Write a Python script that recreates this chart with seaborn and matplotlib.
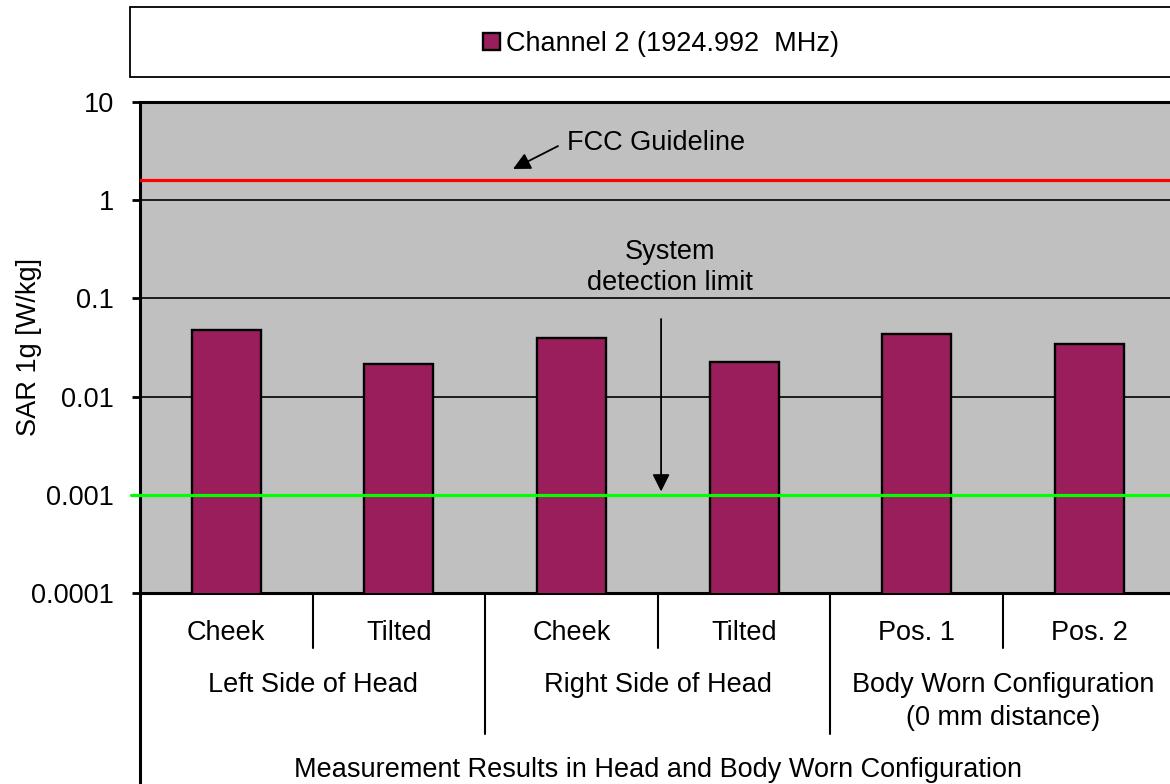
import matplotlib
matplotlib.use("Agg")
import matplotlib.pyplot as plt
from matplotlib.patches import Rectangle
from matplotlib.lines import Line2D
import seaborn as sns
import pandas as pd

# ---- data ----
config_ids = ["L-Cheek", "L-Tilted", "R-Cheek", "R-Tilted", "B-Pos1", "B-Pos2"]
level1_labels = ["Cheek", "Tilted", "Cheek", "Tilted", "Pos. 1", "Pos. 2"]
group_labels = ["Left Side of Head", "Right Side of Head", "Body Worn Configuration"]
group_sublabels = ["", "", "(0 mm distance)"]
sar_values = [0.0478, 0.0213, 0.0392, 0.0226, 0.0438, 0.0340]
series_name = "Channel 2 (1924.992  MHz)"
y_ticks = [0.0001, 0.001, 0.01, 0.1, 1, 10]
y_tick_labels = ["0.0001", "0.001", "0.01", "0.1", "1", "10"]
fcc_limit = 1.6
detection_limit = 0.001
x_title = "Measurement Results in Head and Body Worn Configuration"
y_title = "SAR 1g [W/kg]"

df = pd.DataFrame({"config": config_ids, "sar": sar_values,
                   "series": [series_name] * len(config_ids)})

sns.set_style("white")
plt.rcParams["font.family"] = ["Liberation Sans", "DejaVu Sans"]
for k in ["text.color", "axes.labelcolor", "xtick.color", "ytick.color"]:
    plt.rcParams[k] = "black"
FS = 19.5
BAR = "#9B1E5C"

W, H = 1170, 784
fig = plt.figure(figsize=(W / 100, H / 100), dpi=100)
ax_l, ax_r, ax_t, ax_b = 140, 1175.6, 102, 593
ax = fig.add_axes([ax_l / W, 1 - ax_b / H, (ax_r - ax_l) / W, (ax_b - ax_t) / H])
ax.set_facecolor("#C0C0C0")

sns.barplot(data=df, x="config", y="sar", hue="series", palette=[BAR],
            saturation=1, dodge=False, width=0.4, edgecolor="black",
            linewidth=1.7, ax=ax, zorder=3)
ax.set_yscale("log")

ax.set_ylim(1e-4, 10)
ax.set_xlim(-0.5, len(config_ids) - 0.5)
ax.set_yticks(y_ticks)
ax.set_yticklabels(y_tick_labels, fontsize=FS)
ax.minorticks_off()
ax.tick_params(axis="y", which="major", length=5.8, width=2, color="black",
               pad=13, left=True)
ax.tick_params(axis="x", length=0, labelbottom=False)
ax.set_xlabel("")
ax.set_ylabel(y_title, fontsize=FS)
ax.yaxis.set_label_coords(-0.0946, 0.5)
ax.set_axisbelow(True)
ax.yaxis.grid(True, color="black", linewidth=1.2, zorder=1)
ax.xaxis.grid(False)
for side in ["left", "top", "bottom"]:
    ax.spines[side].set_visible(True)
    ax.spines[side].set_color("black")
    ax.spines[side].set_linewidth(2.2)
ax.spines["right"].set_visible(False)

# reference lines
ax.axhline(fcc_limit, color="#FF0000", lw=2.3, zorder=4)
ax.add_line(Line2D([-0.009, 1], [detection_limit, detection_limit], color="#00FF00",
                   lw=2.3, zorder=5, transform=ax.get_yaxis_transform(), clip_on=False))

# annotations
ax.annotate("", xy=(1.661, 2.08), xytext=(1.922, 3.56),
            arrowprops=dict(arrowstyle="-|>", color="black", lw=1.3,
                            mutation_scale=26, shrinkA=0, shrinkB=0), zorder=6)
ax.text(1.974, 3.82, "FCC Guideline", fontsize=FS, ha="left", va="center", zorder=6)
ax.text(2.571, 0.297, "System", fontsize=FS, ha="center", va="center", zorder=6)
ax.text(2.571, 0.1435, "detection limit", fontsize=FS, ha="center", va="center", zorder=6)
ax.annotate("", xy=(2.519, 0.00108), xytext=(2.519, 0.0617),
            arrowprops=dict(arrowstyle="-|>", color="black", lw=1.3,
                            mutation_scale=26, shrinkA=0, shrinkB=0), zorder=6)

# multi-level category axis below the plot
axh = ax_b - ax_t
def fy(ypix):
    return -(ypix - ax_b) / axh

xt = ax.get_xaxis_transform()
for i, lab in enumerate(level1_labels):
    ax.text(i, fy(633), lab, transform=xt, ha="center", va="center", fontsize=FS, clip_on=False)
for i in range(1, len(config_ids)):
    bottom = fy(734) if i % 2 == 0 else fy(648)
    ax.add_line(Line2D([i - 0.5, i - 0.5], [0, bottom], transform=xt, color="black",
                       lw=1.5, clip_on=False))
for g, (gl, gs) in enumerate(zip(group_labels, group_sublabels)):
    xc = 2 * g + 0.5
    ax.text(xc, fy(685.5), gl, transform=xt, ha="center", va="center", fontsize=FS, clip_on=False)
    if gs:
        ax.text(xc, fy(718), gs, transform=xt, ha="center", va="center", fontsize=FS, clip_on=False)
ax.text(0.5, fy(770), x_title, transform=ax.transAxes, ha="center", va="center",
        fontsize=FS, clip_on=False)
ax.add_line(Line2D([0, 0], [0, fy(800)], transform=ax.transAxes, color="black",
                   lw=2.2, clip_on=False))

# legend box
fig.patches.append(Rectangle((130 / W, 1 - 77 / H), 1056 / W, 70 / H,
                             transform=fig.transFigure, facecolor="white",
                             edgecolor="black", lw=1.3, zorder=-1))
sns.move_legend(ax, "center", bbox_to_anchor=(661 / W, 1 - 44 / H),
                bbox_transform=fig.transFigure, frameon=False, title=None,
                fontsize=FS, handlelength=0.62, handleheight=0.62,
                handletextpad=0.25)

fig.savefig("out.png", dpi=100, facecolor="white")
